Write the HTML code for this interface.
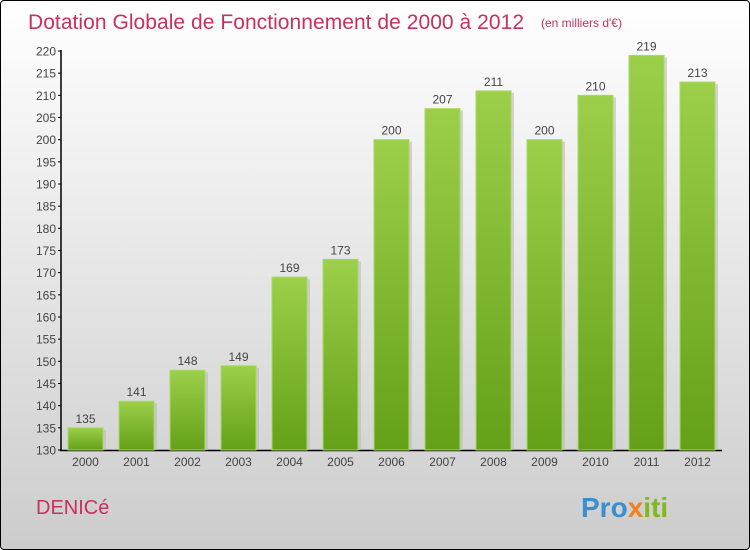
<!DOCTYPE html>
<html><head><meta charset="utf-8"><style>
body{margin:0;width:750px;height:550px;overflow:hidden;font-family:"Liberation Sans",sans-serif}
#frame{position:absolute;left:0;top:0;width:748px;height:548px;border:1px solid #000;border-radius:4px;background:linear-gradient(#fff,#ccc)}
</style></head><body>
<div id="frame"></div>
<svg id="chart" width="750" height="550" style="position:absolute;left:0;top:0">
<defs><linearGradient id="bg" x1="0" y1="0" x2="0" y2="1"><stop offset="0" stop-color="#9ccf4a"/><stop offset="1" stop-color="#64a018"/></linearGradient></defs>
<text x="28" y="29" font-size="21" fill="#c8305f" textLength="496">Dotation Globale de Fonctionnement de 2000 à 2012</text>
<text x="541" y="27" font-size="12" fill="#c8305f">(en milliers d'€)</text>
<text x="36" y="514" font-size="20" fill="#c8305f">DENICé</text>
<text x="581" y="517" font-size="28" font-weight="bold" fill="#3a8fd0">Pro<tspan fill="#f08020">x</tspan><tspan fill="#80b820">iti</tspan></text>
<g id="plot"></g>
</svg>
<script>
const years=["2000","2001","2002","2003","2004","2005","2006","2007","2008","2009","2010","2011","2012"];
const values=[135,141,148,149,169,173,200,207,211,200,210,219,213];
const ticks=[130,135,140,145,150,155,160,165,170,175,180,185,190,195,200,205,210,215,220];
const NS="http://www.w3.org/2000/svg";
const g=document.getElementById('plot');
const y=v=>450-(v-130)*(399/90);
const x=i=>85.5+51*i;
function mk(t,a,txt){const e=document.createElementNS(NS,t);for(const k in a)e.setAttribute(k,a[k]);if(txt!==undefined)e.textContent=txt;g.appendChild(e);return e;}
let ax=mk('line',{x1:61,y1:50,x2:61,y2:451,stroke:'#000','stroke-width':1.5});


let bx=mk('line',{x1:60,y1:450.5,x2:722,y2:450.5,stroke:'#000','stroke-width':1.5});


ticks.forEach(t=>{
  let l=mk('line',{x1:58,y1:y(t),x2:61,y2:y(t),stroke:'#000'});
  
  
  let tx=mk('text',{x:56,y:y(t)+4.5,'font-size':12,'text-anchor':'end',fill:'#444'},t);
  
  
});
values.forEach((v,i)=>{
  let s=mk('rect',{x:x(i)-17.5+3,y:y(v)+2,width:35,height:450-y(v)-2,fill:'#bbb',opacity:0.6});
  
  
  let r=mk('rect',{x:x(i)-17.5,y:y(v),width:35,height:450-y(v),fill:'url(#bg)',stroke:'#a8da60','stroke-width':1});
  
  
  let lb=mk('text',{x:x(i),y:y(v)-5,'font-size':12,'text-anchor':'middle',fill:'#444'},v);
  
  
  let xl=mk('text',{x:x(i),y:466,'font-size':12,'text-anchor':'middle',fill:'#444'},years[i]);
  
  
});
</script>
</body></html>
